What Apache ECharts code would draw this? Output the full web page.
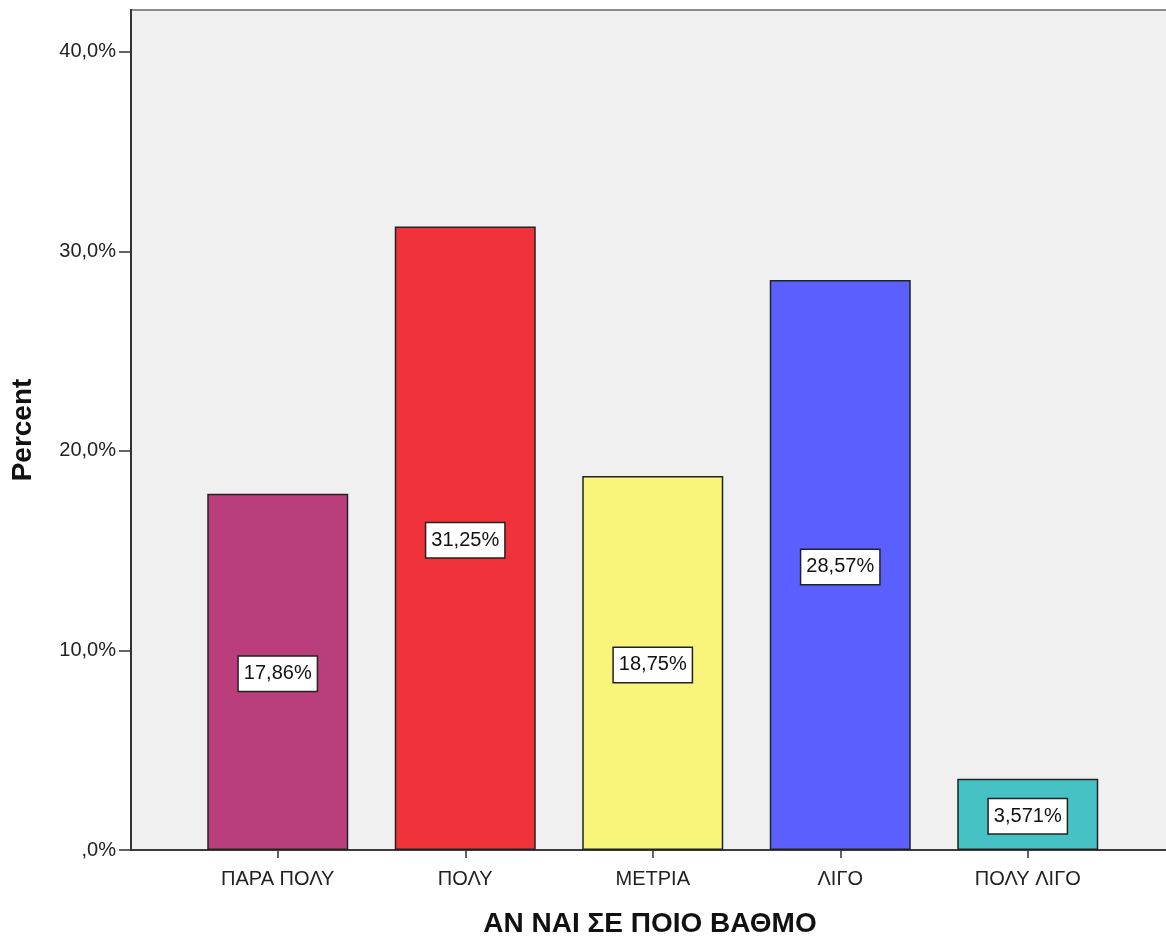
<!DOCTYPE html>
<html>
<head>
<meta charset="utf-8">
<style>
  html, body { margin: 0; padding: 0; background: #fff; }
  #chart { width: 1166px; height: 937px; }
</style>
<script src="https://cdn.jsdelivr.net/npm/echarts@6/dist/echarts.min.js"></script>
</head>
<body>
<div id="chart"></div>
<script>
// Response categories and their share of answers (percent)
const categories = ['ΠΑΡΑ ΠΟΛΥ', 'ΠΟΛΥ', 'ΜΕΤΡΙΑ', 'ΛΙΓΟ', 'ΠΟΛΥ ΛΙΓΟ'];
const percents = [17.86, 31.25, 18.75, 28.57, 3.571];
const valueLabels = ['17,86%', '31,25%', '18,75%', '28,57%', '3,571%'];
const barColors = ['#b93e7b', '#f0323a', '#f9f57a', '#5b5ffe', '#47c2c4'];
const yTicks = [0, 10, 20, 30, 40];
const yTickLabels = [',0%', '10,0%', '20,0%', '30,0%', '40,0%'];

const FONT = '"Liberation Sans", Arial, sans-serif';
const Y_MAX = 42.1;

const chart = echarts.init(document.getElementById('chart'), null, { renderer: 'canvas' });

chart.setOption({
  backgroundColor: '#ffffff',
  animation: false,
  grid: [
    // frame / background of the plot
    { left: 131, right: -3, top: 10, bottom: 87, show: true, outerBoundsMode: 'none',
      backgroundColor: '#f0f0f0', borderColor: '#8a8a8a', borderWidth: 2 },
    // bar area
    { left: 184, width: 937.5, top: 10, bottom: 87, outerBoundsMode: 'none' }
  ],
  xAxis: [
    { gridIndex: 0, type: 'value', min: 0, max: 1,
      axisLine: { show: true, lineStyle: { color: '#222', width: 1.5 } },
      axisTick: { show: false }, axisLabel: { show: false }, splitLine: { show: false },
      name: 'ΑΝ ΝΑΙ ΣΕ ΠΟΙΟ ΒΑΘΜΟ', nameLocation: 'middle', nameGap: 60,
      nameTextStyle: { fontFamily: FONT, fontSize: 28, fontWeight: 'bold', color: '#111' } },
    { gridIndex: 1, type: 'category', data: categories, boundaryGap: true,
      axisLine: { show: false },
      axisTick: { show: true, alignWithLabel: true, length: 8, lineStyle: { color: '#333', width: 1.5 } },
      axisLabel: { fontFamily: FONT, fontSize: 20, color: '#222', margin: 19 } }
  ],
  yAxis: [
    { gridIndex: 0, type: 'value', min: 0, max: Y_MAX,
      axisLine: { show: true, lineStyle: { color: '#333', width: 2 } },
      axisTick: { show: true, length: 12, customValues: yTicks, lineStyle: { color: '#333', width: 1.5 } },
      axisLabel: { fontFamily: FONT, fontSize: 20, color: '#222', margin: 15,
        customValues: yTicks,
        formatter: v => yTickLabels[yTicks.indexOf(Math.round(v))] },
      splitLine: { show: false },
      name: 'Percent', nameLocation: 'middle', nameGap: 94, nameRotate: 90,
      nameTextStyle: { fontFamily: FONT, fontSize: 28, fontWeight: 'bold', color: '#111' } },
    { gridIndex: 1, type: 'value', min: 0, max: Y_MAX, show: false }
  ],
  series: [{
    type: 'bar',
    xAxisIndex: 1, yAxisIndex: 1,
    barWidth: 141,
    data: percents.map((v, i) => ({
      value: v,
      itemStyle: { color: barColors[i], borderColor: '#222', borderWidth: 1.5 }
    })),
    label: {
      show: true, position: 'inside', offset: [0, 2],
      formatter: p => valueLabels[p.dataIndex],
      fontFamily: FONT, fontSize: 20, color: '#111',
      backgroundColor: '#ffffff', borderColor: '#222', borderWidth: 1.5,
      padding: [8, 5, 6, 5]
    }
  }]
});
</script>
</body>
</html>
